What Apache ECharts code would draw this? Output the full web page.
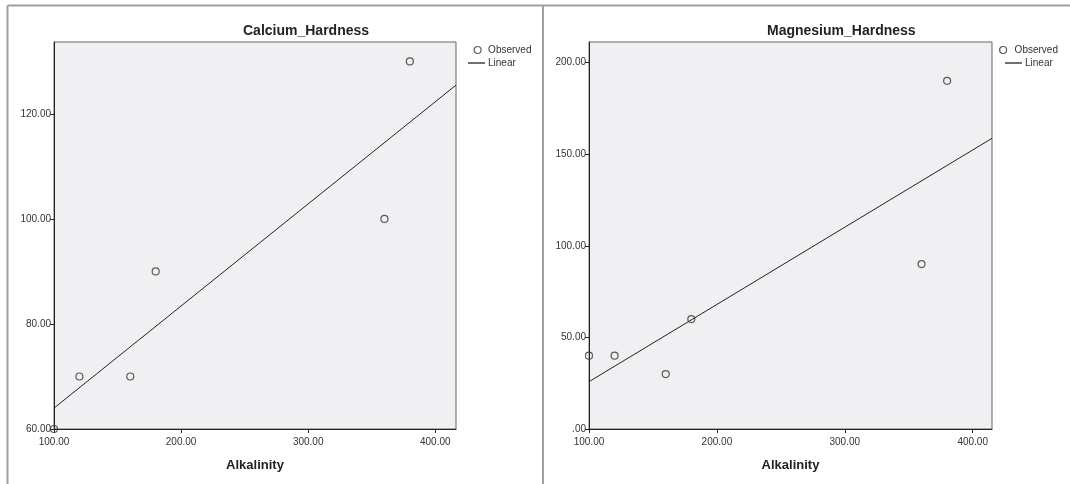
<!DOCTYPE html>
<html>
<head>
<meta charset="utf-8">
<script src="https://cdn.jsdelivr.net/npm/echarts@6/dist/echarts.min.js"></script>
<style>
html,body{margin:0;padding:0;background:#fff;}
#chart{width:1070px;height:484px;}
</style>
</head>
<body>
<div id="chart"></div>
<script>
// ---- data ----
const alkalinity = [100, 120, 160, 180, 360, 380];
const calciumHardness = [60, 70, 70, 90, 100, 130];
const magnesiumHardness = [40, 40, 30, 60, 90, 190];
const titles = ['Calcium_Hardness', 'Magnesium_Hardness'];
const xTickValues = [100, 200, 300, 400];
const yTickValuesCa = [60, 80, 100, 120];
const yTickValuesMg = [0, 50, 100, 150, 200];
const xRange = [[100, 416.3], [100, 415.1]];
const yRangeCa = [60, 133.7];
const yRangeMg = [0, 211.2];

function fit(xs, ys) {
  const n = xs.length;
  const mx = xs.reduce((a, b) => a + b, 0) / n;
  const my = ys.reduce((a, b) => a + b, 0) / n;
  let sxy = 0, sxx = 0;
  for (let i = 0; i < n; i++) { sxy += (xs[i] - mx) * (ys[i] - my); sxx += (xs[i] - mx) ** 2; }
  const b = sxy / sxx, a = my - b * mx;
  return x => a + b * x;
}
const fCa = fit(alkalinity, calciumHardness);
const fMg = fit(alkalinity, magnesiumHardness);

const fmt = v => { const s = Number(v).toFixed(2); return s.startsWith('0.') ? s.slice(1) : s; };
const FONT = 'Liberation Sans, Arial, sans-serif';
const axisCommon = {
  axisLine: { show: true, onZero: false, lineStyle: { color: '#222', width: 1 } },
  axisTick: { show: true, length: 4, lineStyle: { color: '#222' } },
  splitLine: { show: false },
  axisLabel: { color: '#333', fontSize: 10, fontFamily: FONT, formatter: fmt }
};
function xAxis(idx) {
  return Object.assign({}, axisCommon, {
    type: 'value', gridIndex: idx, min: xRange[idx][0], max: xRange[idx][1],
    name: 'Alkalinity', nameLocation: 'middle', nameGap: 30,
    nameTextStyle: { fontSize: 13, fontWeight: 'bold', color: '#222', fontFamily: FONT },
    axisTick: Object.assign({}, axisCommon.axisTick, { customValues: xTickValues }),
    axisLabel: Object.assign({}, axisCommon.axisLabel, { margin: 8, customValues: xTickValues })
  });
}
function yAxis(idx, range, ticks) {
  return Object.assign({}, axisCommon, {
    type: 'value', gridIndex: idx, min: range[0], max: range[1],
    axisTick: Object.assign({}, axisCommon.axisTick, { customValues: ticks }),
    axisLabel: Object.assign({}, axisCommon.axisLabel, { margin: 3, customValues: ticks })
  });
}
const scatterStyle = { color: 'rgba(0,0,0,0)', borderColor: '#333', borderWidth: 1.2 };
function series(idx, ys, f) {
  const pts = alkalinity.map((x, i) => [x, ys[i]]);
  const xr = xRange[idx];
  return [
    { name: 'Observed', type: 'scatter', xAxisIndex: idx, yAxisIndex: idx, data: pts,
      symbol: 'circle', symbolSize: 7, itemStyle: scatterStyle, z: 3 },
    { name: 'Linear', type: 'line', xAxisIndex: idx, yAxisIndex: idx,
      data: [[xr[0], f(xr[0])], [xr[1], f(xr[1])]], symbol: 'none', showSymbol: false,
      lineStyle: { color: '#222', width: 1 }, itemStyle: { color: '#222' }, z: 2 }
  ];
}
const legendText = { fontSize: 10, color: '#333', fontFamily: FONT };
function obsLegend(left, pad) {
  return {
    left: left, top: 45, itemWidth: 7, itemHeight: 7, padding: 0, selectedMode: false,
    textStyle: Object.assign({ padding: [0, 0, 0, pad] }, legendText),
    data: [{ name: 'Observed', icon: 'circle', itemStyle: scatterStyle }]
  };
}
function linLegend(left, pad) {
  return {
    left: left, top: 58, itemWidth: 17, itemHeight: 1.2, padding: 0, selectedMode: false,
    textStyle: Object.assign({ padding: [0, 0, 0, pad] }, legendText),
    data: [{ name: 'Linear', icon: 'rect', itemStyle: { color: '#111', borderWidth: 0 } }]
  };
}

const titleStyle = { fontSize: 14, fontWeight: 'bold', color: '#222', fontFamily: FONT };
const option = {
  animation: false,
  backgroundColor: '#fff',
  title: [
    { text: titles[0], left: 243, top: 24, padding: 0, textStyle: titleStyle },
    { text: titles[1], left: 767, top: 24, padding: 0, textStyle: titleStyle }
  ],
  legend: [obsLegend(473.5, 2), linLegend(468, -2), obsLegend(999, 3), linLegend(1005, -2)],
  grid: [
    { left: 54, top: 42, width: 402, height: 387, show: true, backgroundColor: '#f0f0f2', borderColor: '#666', borderWidth: 1 },
    { left: 589, top: 42, width: 403, height: 387, show: true, backgroundColor: '#f0f0f2', borderColor: '#666', borderWidth: 1 }
  ],
  xAxis: [xAxis(0), xAxis(1)],
  yAxis: [yAxis(0, yRangeCa, yTickValuesCa), yAxis(1, yRangeMg, yTickValuesMg)],
  series: series(0, calciumHardness, fCa).concat(series(1, magnesiumHardness, fMg)),
  graphic: [
    { type: 'line', shape: { x1: 7.5, y1: 5.5, x2: 1070, y2: 5.5 }, style: { stroke: '#a0a0a0', lineWidth: 2 }, silent: true },
    { type: 'line', shape: { x1: 7.5, y1: 5.5, x2: 7.5, y2: 484 }, style: { stroke: '#a0a0a0', lineWidth: 2 }, silent: true },
    { type: 'line', shape: { x1: 543, y1: 5.5, x2: 543, y2: 484 }, style: { stroke: '#a0a0a0', lineWidth: 2 }, silent: true }
  ]
};
const chart = echarts.init(document.getElementById('chart'), null, { renderer: 'canvas' });
chart.setOption(option);
</script>
</body>
</html>
